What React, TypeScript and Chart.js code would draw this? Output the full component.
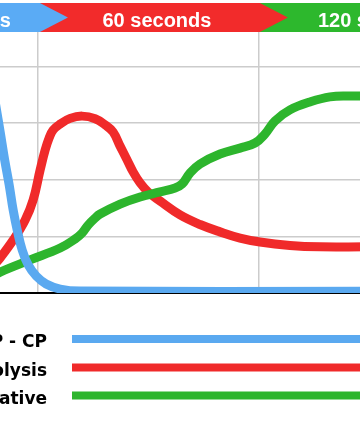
import React, { useEffect, useRef } from "react";
import { Chart, registerables } from "chart.js";

Chart.register(...registerables);

// Series labels and phase banners
const seriesLabels = ["ATP - CP", "Glycolysis", "Oxidative"];
const seriesColors = ["#5aa9f0", "#f02a2a", "#2db52d"];
const phaseLabels = ["10 seconds", "60 seconds", "120 seconds"];
const phaseColors = ["#5aabf5", "#f22b2b", "#2db82d"];
const phaseEnds = [10.4, 60.2]; // seconds
const gridTimes = [10, 60]; // vertical gridlines (seconds)

// ATP - CP
const atpTime = [0, 0.38, 1.4, 2.42, 3.44, 4.34, 5.25, 6.38, 7.74, 9.55, 11.8, 14.98, 19.5, 84];
const atpValue = [70, 66.4, 56.9, 47.0, 38.2, 29.3, 22.3, 15.2, 9.9, 6.0, 3.2, 1.4, 0.7, 0.6];

// Glycolysis
const glyTime = [0, 1.4, 4.34, 7.06, 8.87, 10.45, 11.58, 12.49, 13.39, 14.98, 17.24, 19.96, 22.9, 25.16, 26.97, 28.55, 30.14, 31.49, 33.08, 34.89, 37.6, 42.13, 46.65, 51.18, 55.7, 60.23, 67.0, 73.8, 84];
const glyValue = [9.9, 12.4, 18.7, 25.8, 32.9, 43.5, 50.5, 54.8, 57.6, 59.7, 61.7, 62.5, 61.6, 59.4, 56.9, 51.9, 47.0, 42.8, 38.9, 35.7, 32.5, 27.6, 24.2, 21.6, 19.4, 18.0, 16.8, 16.3, 16.3];

// Oxidative
const oxTime = [0, 1.4, 8.19, 14.98, 18.37, 19.96, 21.31, 22.9, 24.03, 28.55, 33.08, 37.6, 41.0, 42.58, 44.39, 46.65, 51.18, 55.7, 59.1, 61.36, 63.62, 67.0, 71.54, 76.06, 80.59, 84];
const oxValue = [6.0, 7.4, 11.7, 15.9, 19.1, 21.2, 24.0, 26.5, 27.9, 31.4, 33.9, 35.7, 37.1, 38.5, 42.4, 45.6, 49.1, 51.2, 53.0, 56.2, 60.8, 64.7, 67.5, 69.3, 69.6, 69.6];

const toPoints = (t: number[], v: number[]) => t.map((x, i) => ({ x, y: v[i] }));

const BANNER_FONT = '"Liberation Sans", Arial, sans-serif';
const LEGEND_FONT = '"DejaVu Sans", Verdana, sans-serif';
const OFFSET = 120; // canvas starts this many px left of the viewport

const bannerPlugin = {
  id: "banners",
  afterDraw(chart: any) {
    const ctx = chart.ctx as CanvasRenderingContext2D;
    const xs = chart.scales.x;
    const W = chart.width;
    const top = 3;
    const bottom = 32;
    const mid = (top + bottom) / 2;
    const tip = 28;
    const b1 = xs.getPixelForValue(phaseEnds[0]);
    const b2 = xs.getPixelForValue(phaseEnds[1]);
    ctx.save();
    ctx.fillStyle = phaseColors[2];
    ctx.fillRect(b2, top, W - b2, bottom - top);
    ctx.fillStyle = phaseColors[1];
    ctx.beginPath();
    ctx.moveTo(b1, top);
    ctx.lineTo(b2, top);
    ctx.lineTo(b2 + tip, mid);
    ctx.lineTo(b2, bottom);
    ctx.lineTo(b1, bottom);
    ctx.closePath();
    ctx.fill();
    ctx.fillStyle = phaseColors[0];
    ctx.beginPath();
    ctx.moveTo(0, top);
    ctx.lineTo(b1, top);
    ctx.lineTo(b1 + tip, mid);
    ctx.lineTo(b1, bottom);
    ctx.lineTo(0, bottom);
    ctx.closePath();
    ctx.fill();

    ctx.fillStyle = "#ffffff";
    ctx.font = `bold 20px ${BANNER_FONT}`;
    ctx.textBaseline = "alphabetic";
    ctx.textAlign = "right";
    ctx.fillText(phaseLabels[0], b1 - 29, 27);
    ctx.textAlign = "center";
    ctx.fillText(phaseLabels[1], b1 + 117, 27);
    ctx.textAlign = "left";
    ctx.fillText(phaseLabels[2], b2 + 58, 27);
    ctx.restore();
  },
};

const legendPlugin = {
  id: "sideLegend",
  afterDraw(chart: any) {
    const ctx = chart.ctx as CanvasRenderingContext2D;
    const W = chart.width;
    const lineY = [339, 367.5, 395.5];
    ctx.save();
    ctx.font = `bold 17px ${LEGEND_FONT}`;
    ctx.textAlign = "right";
    ctx.textBaseline = "alphabetic";
    seriesLabels.forEach((label, i) => {
      ctx.fillStyle = "#000000";
      ctx.fillText(label, OFFSET + 47, lineY[i] + 8);
      ctx.fillStyle = seriesColors[i];
      ctx.fillRect(OFFSET + 72, lineY[i] - 4, W - (OFFSET + 72), 8);
    });
    ctx.restore();
  },
};

export default function App() {
  const ref = useRef<HTMLCanvasElement>(null);
  useEffect(() => {
    const canvas = ref.current!;
    const chart = new Chart(canvas, {
      type: "line",
      data: {
        datasets: [
          { label: seriesLabels[0], data: toPoints(atpTime, atpValue), borderColor: seriesColors[0], order: 1 },
          { label: seriesLabels[1], data: toPoints(glyTime, glyValue), borderColor: seriesColors[1], order: 3 },
          { label: seriesLabels[2], data: toPoints(oxTime, oxValue), borderColor: seriesColors[2], order: 2 },
        ],
      },
      options: {
        responsive: false,
        animation: false,
        devicePixelRatio: 1,
        layout: { padding: { left: 114, right: 15, top: 10, bottom: 128 } },
        elements: {
          point: { radius: 0 },
          line: { borderWidth: 9, tension: 0.4, fill: false, borderJoinStyle: "round" },
        },
        plugins: { legend: { display: false }, tooltip: { enabled: false } },
        scales: {
          x: {
            type: "linear",
            min: 0,
            max: 84,
            ticks: { display: false },
            grid: { color: "#cccccc", lineWidth: 1.5, drawTicks: false },
            border: { color: "#000000", width: 2 },
            afterBuildTicks: (s: any) => {
              s.ticks = gridTimes.map((v) => ({ value: v }));
            },
            afterFit: (s: any) => {
              s.height = 0;
            },
          },
          y: {
            min: 0,
            max: 100,
            ticks: { display: false, stepSize: 20 },
            grid: { color: "#cccccc", lineWidth: 1.5, drawTicks: false },
            border: { display: false },
            afterFit: (s: any) => {
              s.width = 0;
            },
          },
        },
      },
      plugins: [bannerPlugin, legendPlugin],
    } as any);
    return () => chart.destroy();
  }, []);
  return (
    <div
      style={{
        position: "fixed",
        left: 0,
        top: 0,
        width: 360,
        height: 421,
        overflow: "hidden",
        background: "#ffffff",
      }}
    >
      <canvas
        ref={ref}
        width={500}
        height={421}
        style={{ position: "absolute", left: -OFFSET, top: 0, width: 500, height: 421 }}
      />
    </div>
  );
}
